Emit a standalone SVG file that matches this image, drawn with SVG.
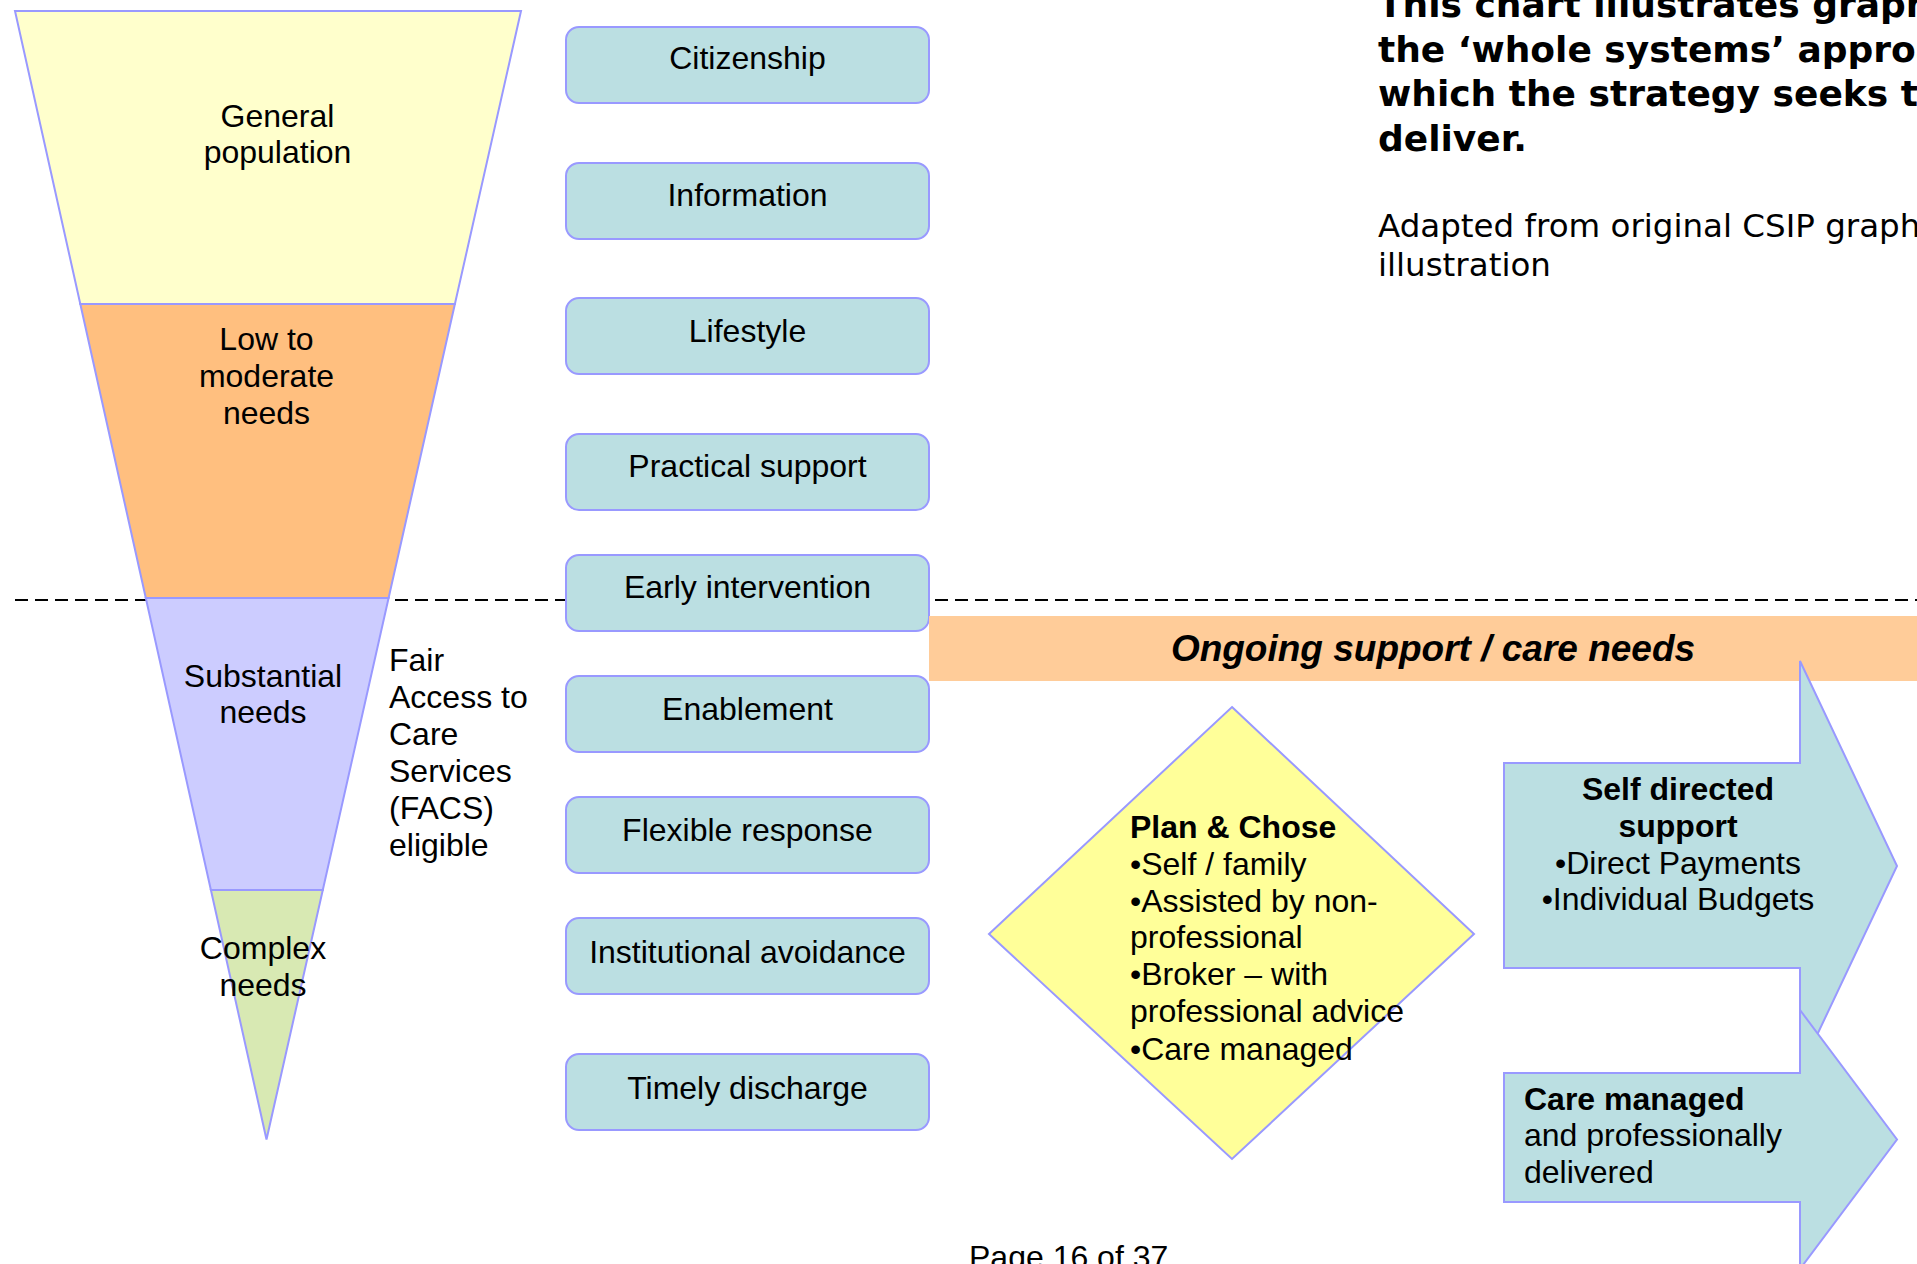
<svg xmlns="http://www.w3.org/2000/svg" width="1917" height="1264" viewBox="0 0 1917 1264">
<style>
.t{font-family:"Liberation Sans",Arial,sans-serif;font-size:32px;fill:#000}
.c{text-anchor:middle}
.b{font-weight:bold}
.box{fill:#BBDFE2;stroke:#9999FF;stroke-width:2}
.fun{stroke:#9999FF;stroke-width:2}
.v{font-family:"DejaVu Sans",Verdana,sans-serif;fill:#000}
.vb{font-size:36px;font-weight:bold}
.vr{font-size:32.5px}
</style>
<rect width="1917" height="1264" fill="#fff"/>

<g id="connectors">
<line x1="15" y1="600" x2="1917" y2="600" stroke="#000" stroke-width="2" stroke-dasharray="13,7"/>
</g>

<g id="funnel">
<g id="general-population">
<polygon class="fun" points="15,11 521,11 454.9,304 80.3,304" fill="#FFFFCC"/>
<text class="t c" x="277.5" y="126.5">General</text>
<text class="t c" x="277.5" y="163">population</text>
</g>
<g id="low-moderate">
<polygon class="fun" points="80.3,304 454.9,304 388.6,598 145.8,598" fill="#FFBF7F"/>
<text class="t c" x="266.5" y="350">Low to</text>
<text class="t c" x="266.5" y="386.5">moderate</text>
<text class="t c" x="266.5" y="423.5">needs</text>
</g>
<g id="substantial">
<polygon class="fun" points="145.8,598 388.6,598 322.8,890 210.9,890" fill="#CCCCFF"/>
<text class="t c" x="263" y="686.5">Substantial</text>
<text class="t c" x="263" y="723">needs</text>
</g>
<g id="complex">
<polygon class="fun" points="210.9,890 322.8,890 266.5,1139.5" fill="#D8E9B3"/>
<text class="t c" x="263" y="959">Complex</text>
<text class="t c" x="263" y="995.5">needs</text>
</g>
</g>

<g id="facs-label">
<text class="t" x="389" y="670.5">Fair</text>
<text class="t" x="389" y="707.5">Access to</text>
<text class="t" x="389" y="744.5">Care</text>
<text class="t" x="389" y="781.5">Services</text>
<text class="t" x="389" y="818.5">(FACS)</text>
<text class="t" x="389" y="855.5">eligible</text>
</g>

<g id="citizenship"><rect class="box" x="566" y="27" width="363" height="76" rx="13"/><text class="t c" x="747.5" y="69">Citizenship</text></g>
<g id="information"><rect class="box" x="566" y="163" width="363" height="76" rx="13"/><text class="t c" x="747.5" y="206">Information</text></g>
<g id="lifestyle"><rect class="box" x="566" y="298" width="363" height="76" rx="13"/><text class="t c" x="747.5" y="341.5">Lifestyle</text></g>
<g id="practical-support"><rect class="box" x="566" y="434" width="363" height="76" rx="13"/><text class="t c" x="747.5" y="477">Practical support</text></g>
<g id="early-intervention"><rect class="box" x="566" y="555" width="363" height="76" rx="13"/><text class="t c" x="747.5" y="598">Early intervention</text></g>
<g id="enablement"><rect class="box" x="566" y="676" width="363" height="76" rx="13"/><text class="t c" x="747.5" y="719.5">Enablement</text></g>
<g id="flexible-response"><rect class="box" x="566" y="797" width="363" height="76" rx="13"/><text class="t c" x="747.5" y="840.5">Flexible response</text></g>
<g id="institutional-avoidance"><rect class="box" x="566" y="918" width="363" height="76" rx="13"/><text class="t c" x="747.5" y="962.5">Institutional avoidance</text></g>
<g id="timely-discharge"><rect class="box" x="566" y="1054" width="363" height="76" rx="13"/><text class="t c" x="747.5" y="1098.5">Timely discharge</text></g>

<g id="ongoing-band">
<rect x="929" y="616" width="988" height="65" fill="#FFCC99"/>
<text class="t c b" x="1433" y="661" style="font-style:italic;font-size:37px">Ongoing support / care needs</text>
</g>

<g id="plan-chose">
<polygon points="1232,707 1474,934 1232,1159 989,934" fill="#FFFF99" stroke="#9999FF" stroke-width="2"/>
<text class="t b" x="1130" y="838">Plan &amp; Chose</text>
<text class="t" x="1130" y="874.5">•Self / family</text>
<text class="t" x="1130" y="911.5">•Assisted by non-</text>
<text class="t" x="1130" y="948">professional</text>
<text class="t" x="1130" y="984.5">•Broker – with</text>
<text class="t" x="1130" y="1021.5">professional advice</text>
<text class="t" x="1130" y="1059.5">•Care managed</text>
</g>

<g id="self-directed">
<path class="box" d="M1504,763 H1800 V661 L1897,866 L1800,1071 V968 H1504 Z"/>
<text class="t c b" x="1678" y="800">Self directed</text>
<text class="t c b" x="1678" y="836.5">support</text>
<text class="t c" x="1678" y="873.5">•Direct Payments</text>
<text class="t c" x="1678" y="910">•Individual Budgets</text>
</g>

<g id="care-managed">
<path class="box" d="M1504,1073 H1800 V1010 L1897,1139.5 L1800,1269 V1202 H1504 Z"/>
<text class="t b" x="1524" y="1109.5">Care managed</text>
<text class="t" x="1524" y="1146">and professionally</text>
<text class="t" x="1524" y="1182.5">delivered</text>
</g>

<g id="caption">
<text class="v vb" x="1378" y="17">This chart illustrates graphically</text>
<text class="v vb" x="1378" y="61.5">the ‘whole systems’ approach</text>
<text class="v vb" x="1378" y="106">which the strategy seeks to</text>
<text class="v vb" x="1378" y="150.5">deliver.</text>
<text class="v vr" x="1378" y="237">Adapted from original CSIP graphic</text>
<text class="v vr" x="1378" y="275.5">illustration</text>
</g>

<g id="page-number">
<text class="t" x="969" y="1268">Page 16 of 37</text>
</g>
</svg>
